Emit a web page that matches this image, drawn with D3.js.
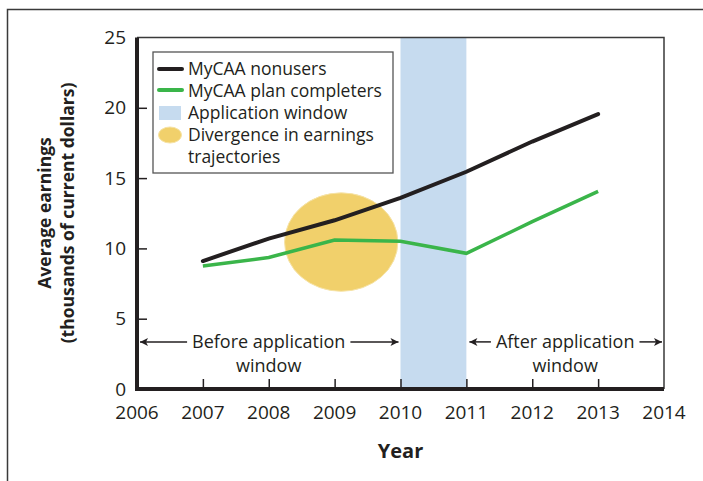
<!DOCTYPE html>
<html>
<head>
<meta charset="utf-8">
<script src="https://cdn.jsdelivr.net/npm/d3@7"></script>
<style>
  body { margin: 0; background: #fff; }
  svg { display: block; font-family: "Open Sans", sans-serif; }
</style>
</head>
<body>
<script>
// data
var years = [2007, 2008, 2009, 2010, 2011, 2012, 2013];
var nonusers = [9.1, 10.7, 12.0, 13.6, 15.45, 17.6, 19.55];
var completers = [8.75, 9.35, 10.6, 10.5, 9.65, 11.9, 14.05];
var windowYears = [2010, 2011];
var divergenceCenter = [2009.1, 10.45];
var divergenceRadius = [0.86, 3.5];
var xTicks = [2006, 2007, 2008, 2009, 2010, 2011, 2012, 2013, 2014];
var yTicks = [0, 5, 10, 15, 20, 25];
var legendLabels = ["MyCAA nonusers", "MyCAA plan completers", "Application window", "Divergence in earnings", "trajectories"];

var w = 703, h = 481;
var ink = "#231f20", green = "#3ab54a", blue = "#c6dbef", gold = "#f1d06b";

var x = d3.scaleLinear().domain([2006, 2014]).range([137, 664]);
var y = d3.scaleLinear().domain([0, 25]).range([389, 37.5]);

var svg = d3.select("body").append("svg")
    .attr("width", w)
    .attr("height", h);

// outer frame (only top and left show)
svg.append("path")
    .attr("d", "M7.5," + h + "V9.5H" + w)
    .attr("fill", "none")
    .attr("stroke", "#3a3a3a")
    .attr("stroke-width", 1.5);

// application window band
svg.append("rect")
    .attr("x", x(windowYears[0]))
    .attr("y", y(25))
    .attr("width", x(windowYears[1]) - x(windowYears[0]))
    .attr("height", y(0) - y(25))
    .attr("fill", blue);

// divergence blob
svg.append("ellipse")
    .attr("cx", x(divergenceCenter[0]))
    .attr("cy", y(divergenceCenter[1]))
    .attr("rx", x(2006 + divergenceRadius[0]) - x(2006))
    .attr("ry", y(0) - y(divergenceRadius[1]))
    .attr("fill", gold)
    .attr("stroke", "#f6e3a6")
    .attr("stroke-width", 1);

// plot frame: thin top and right
svg.append("path")
    .attr("d", "M" + x(2006) + "," + y(25) + "H" + x(2014) + "V" + y(0))
    .attr("fill", "none")
    .attr("stroke", "#3a3a3a")
    .attr("stroke-width", 1.5);

// axes
svg.append("g")
    .attr("transform", "translate(0," + y(0) + ")")
    .call(d3.axisTop(x).tickValues(xTicks.slice(1, -1)).tickSize(10).tickFormat(""));
svg.append("g")
    .attr("transform", "translate(" + x(2006) + ",0)")
    .call(d3.axisRight(y).tickValues(yTicks.slice(1, -1)).tickSize(10).tickFormat(""));
svg.selectAll(".domain").remove();
svg.selectAll(".tick line").attr("stroke", ink).attr("stroke-width", 1.5);

svg.append("path")
    .attr("d", "M" + x(2006) + "," + y(25) + "V" + y(0) + "H" + x(2014))
    .attr("fill", "none")
    .attr("stroke", ink)
    .attr("stroke-width", 4);

// tick labels
svg.append("g").selectAll("text")
    .data(xTicks)
    .enter().append("text")
    .attr("x", function(d) { return x(d); })
    .attr("y", y(0) + 30)
    .attr("text-anchor", "middle")
    .attr("font-size", 19)
    .attr("fill", ink)
    .text(function(d) { return d; });

svg.append("g").selectAll("text")
    .data(yTicks)
    .enter().append("text")
    .attr("x", x(2006) - 11)
    .attr("y", function(d) { return y(d); })
    .attr("dy", "0.35em")
    .attr("text-anchor", "end")
    .attr("font-size", 19)
    .attr("fill", ink)
    .text(function(d) { return d; });

// axis titles
svg.append("text")
    .attr("x", x(2010))
    .attr("y", 458)
    .attr("text-anchor", "middle")
    .attr("font-size", 20)
    .attr("font-weight", "bold")
    .attr("fill", ink)
    .text("Year");

var yt = svg.append("text")
    .attr("transform", "translate(0,213) rotate(-90)")
    .attr("text-anchor", "middle")
    .attr("font-size", 17.5)
    .attr("font-weight", "bold")
    .attr("fill", ink);
yt.append("tspan").attr("x", 0).attr("y", 51).text("Average earnings");
yt.append("tspan").attr("x", 0).attr("y", 74).text("(thousands of current dollars)");

// lines
var line = d3.line()
    .x(function(d) { return x(d[0]); })
    .y(function(d) { return y(d[1]); });

svg.append("path")
    .datum(d3.zip(years, completers))
    .attr("d", line)
    .attr("fill", "none")
    .attr("stroke", green)
    .attr("stroke-width", 3.5);

svg.append("path")
    .datum(d3.zip(years, nonusers))
    .attr("d", line)
    .attr("fill", "none")
    .attr("stroke", ink)
    .attr("stroke-width", 4)
    .attr("stroke-linecap", "round");

// before / after annotations
svg.append("defs").append("marker")
    .attr("id", "head")
    .attr("viewBox", "0 0 10 10")
    .attr("refX", 9).attr("refY", 5)
    .attr("markerWidth", 10).attr("markerHeight", 10)
    .attr("markerUnits", "userSpaceOnUse")
    .attr("orient", "auto")
    .append("path")
    .attr("d", "M1,1L9,5L1,9L3,5Z")
    .attr("fill", ink);

function annotate(x0, x1, line1) {
    var cx = (x(x0) + x(x1)) / 2, ay = y(3.35);
    var t = svg.append("text")
        .attr("x", cx).attr("y", ay)
        .attr("dy", "0.35em")
        .attr("text-anchor", "middle")
        .attr("font-size", 18)
        .attr("fill", ink)
        .text(line1);
    svg.append("text")
        .attr("x", cx).attr("y", ay + 24)
        .attr("dy", "0.35em")
        .attr("text-anchor", "middle")
        .attr("font-size", 18)
        .attr("fill", ink)
        .text("window");
    var half = t.node().getComputedTextLength() / 2;
    svg.append("line")
        .attr("x1", cx - half - 5).attr("y1", ay)
        .attr("x2", x(x0) + 3).attr("y2", ay)
        .attr("stroke", ink).attr("stroke-width", 1.5)
        .attr("marker-end", "url(#head)");
    svg.append("line")
        .attr("x1", cx + half + 5).attr("y1", ay)
        .attr("x2", x(x1) - 2).attr("y2", ay)
        .attr("stroke", ink).attr("stroke-width", 1.5)
        .attr("marker-end", "url(#head)");
}
annotate(2006, 2010, "Before application");
annotate(2011, 2014, "After application");

// legend
var lg = svg.append("g").attr("transform", "translate(153,52)");
lg.append("rect")
    .attr("width", 240).attr("height", 121)
    .attr("fill", "#fff")
    .attr("stroke", "#555")
    .attr("stroke-width", 1.3);
lg.append("line").attr("x1", 6).attr("x2", 29).attr("y1", 17).attr("y2", 17)
    .attr("stroke", ink).attr("stroke-width", 4).attr("stroke-linecap", "round");
lg.append("line").attr("x1", 6).attr("x2", 29).attr("y1", 38).attr("y2", 38)
    .attr("stroke", green).attr("stroke-width", 4).attr("stroke-linecap", "round");
lg.append("rect").attr("x", 6).attr("y", 54).attr("width", 22).attr("height", 14)
    .attr("fill", blue);
lg.append("ellipse").attr("cx", 17).attr("cy", 83).attr("rx", 11.5).attr("ry", 8)
    .attr("fill", gold).attr("stroke", "#f6e3a6");
lg.selectAll("text.lab")
    .data(legendLabels)
    .enter().append("text")
    .attr("class", "lab")
    .attr("x", 35)
    .attr("y", function(d, i) { return 17 + i * 22; })
    .attr("dy", "0.35em")
    .attr("font-size", 17.5)
    .attr("fill", ink)
    .text(function(d) { return d; });
</script>
</body>
</html>
